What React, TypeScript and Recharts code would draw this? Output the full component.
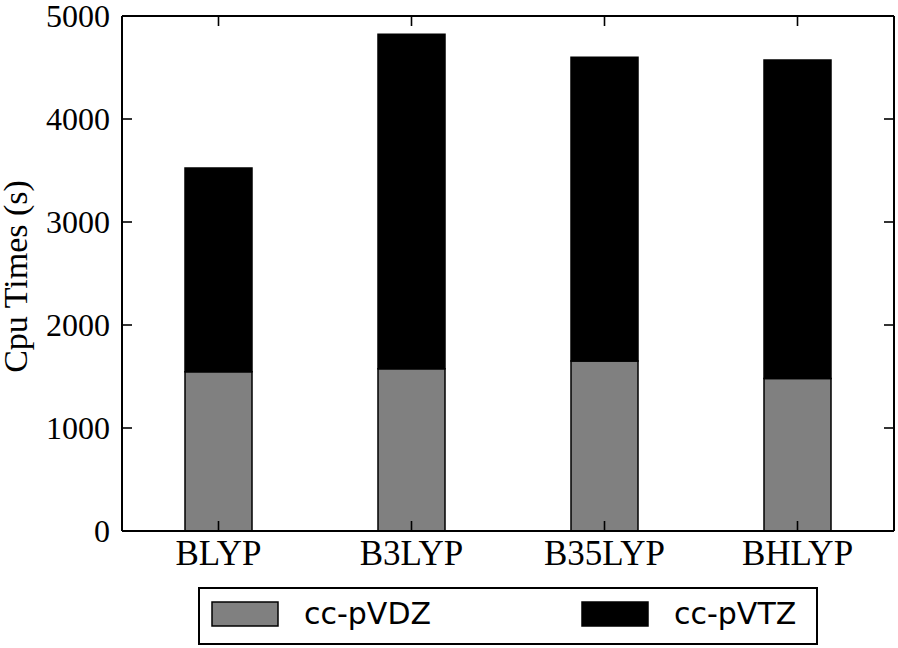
import React from 'react';
import { BarChart, Bar, XAxis, YAxis, Legend } from 'recharts';

const methods = ['BLYP', 'B3LYP', 'B35LYP', 'BHLYP'];
const ccPVDZ = [1545, 1575, 1650, 1480];
const ccPVTZ = [1979, 3247, 2949, 3093];
const yTicks = [0, 1000, 2000, 3000, 4000, 5000];
const seriesNames = ['cc-pVDZ', 'cc-pVTZ'];
const yLabel = 'Cpu Times (s)';

const data = methods.map((m, i) => ({ name: m, vdz: ccPVDZ[i], vtz: ccPVTZ[i] }));

const SERIF = '"Liberation Serif", "Times New Roman", serif';
const SANS = '"DejaVu Sans", sans-serif';
const TS = 10;
const TICK_LEN = 10;
const TICK_W = 1.6;

const BottomTick = (props: any) => {
  const { x, y, payload } = props;
  const ay = y - TS;
  return (
    <g>
      <line x1={x} x2={x} y1={ay} y2={ay - TICK_LEN} stroke="#000" strokeWidth={TICK_W} />
      <text x={x} y={ay + 34} textAnchor="middle" fontFamily={SERIF} fontSize={35} fill="#000">
        {payload.value}
      </text>
    </g>
  );
};

const TopTick = (props: any) => {
  const { x, y } = props;
  const ay = y + TS;
  return <line x1={x} x2={x} y1={ay} y2={ay + TICK_LEN} stroke="#000" strokeWidth={TICK_W} />;
};

const LeftTick = (props: any) => {
  const { x, y, payload } = props;
  const ax = x + TS;
  return (
    <g>
      <line x1={ax} x2={ax + TICK_LEN} y1={y} y2={y} stroke="#000" strokeWidth={TICK_W} />
      <text x={ax - 12} y={y + 11} textAnchor="end" fontFamily={SERIF} fontSize={32} fill="#000">
        {payload.value}
      </text>
    </g>
  );
};

const RightTick = (props: any) => {
  const { x, y } = props;
  const ax = x - TS;
  return <line x1={ax} x2={ax - TICK_LEN} y1={y} y2={y} stroke="#000" strokeWidth={TICK_W} />;
};

const LegendBox = (props: any) => {
  const payload = props.payload || [];
  return (
    <svg width={620} height={58} style={{ display: 'block' }}>
      <rect x={1} y={1} width={618} height={56} fill="#fff" stroke="#000" strokeWidth={2} />
      {payload.map((p: any, i: number) => (
        <g key={i}>
          <rect x={14 + i * 370} y={15} width={66} height={24} fill={p.color} stroke="#000" strokeWidth={1.5} />
          <text x={106 + i * 370} y={37} fontFamily={SANS} fontSize={30} fill="#000">
            {p.value}
          </text>
        </g>
      ))}
    </svg>
  );
};

const YLabel = (props: any) => {
  const vb = props.viewBox || { x: 0, y: 0, width: 0, height: 0 };
  const cx = vb.x + 27;
  const cy = vb.y + vb.height / 2 + 3;
  return (
    <text x={cx} y={cy} transform={`rotate(-90 ${cx} ${cy})`} textAnchor="middle" fontFamily={SERIF} fontSize={34} fill="#000">
      {yLabel}
    </text>
  );
};

export default function App() {
  return (
    <div style={{ position: 'absolute', left: 0, top: 0, background: '#fff' }}>
      <BarChart width={898} height={648} data={data} margin={{ top: 15, right: 3, left: 0, bottom: 0 }} barSize={67}>
        <Bar dataKey="vdz" name={seriesNames[0]} stackId="s" xAxisId="b" yAxisId="l" fill="#808080" stroke="#000" strokeWidth={1.5} isAnimationActive={false} />
        <Bar dataKey="vtz" name={seriesNames[1]} stackId="s" xAxisId="b" yAxisId="l" fill="#000" stroke="#000" strokeWidth={1.5} isAnimationActive={false} />
        <XAxis dataKey="name" xAxisId="b" height={117} tickSize={TS} tickMargin={0} tickLine={false}
          axisLine={{ stroke: '#000', strokeWidth: 2 }} tick={<BottomTick />} />
        <XAxis dataKey="name" xAxisId="t" orientation="top" height={1} tickSize={TS} tickMargin={0} tickLine={false}
          tick={<TopTick />} axisLine={{ stroke: '#000', strokeWidth: 2 }} />
        <YAxis yAxisId="l" width={122} domain={[0, 5000]} ticks={yTicks} tickSize={TS} tickMargin={0} tickLine={false}
          axisLine={{ stroke: '#000', strokeWidth: 2 }} tick={<LeftTick />} label={<YLabel />} />
        <YAxis yAxisId="r" orientation="right" width={1} type="number" domain={[0, 5000]} allowDataOverflow ticks={yTicks}
          tickSize={TS} tickMargin={0} tickLine={false} interval={0}
          tick={<RightTick />} axisLine={{ stroke: '#000', strokeWidth: 2 }} />
        <Legend layout="horizontal" verticalAlign="middle" align="center" content={<LegendBox />}
          wrapperStyle={{ position: 'absolute', left: 198, top: 587, width: 620, height: 58 }} />
      </BarChart>
    </div>
  );
}
